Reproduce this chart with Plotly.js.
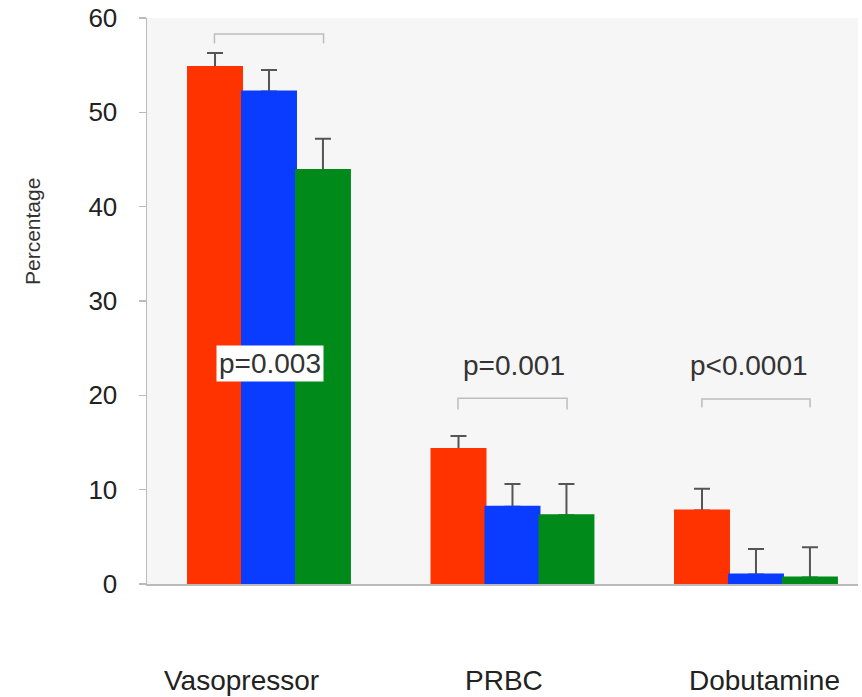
<!DOCTYPE html>
<html>
<head>
<meta charset="utf-8">
<script src="https://cdn.plot.ly/plotly-3.0.1.min.js"></script>
<style>html,body{margin:0;padding:0;background:#ffffff;}</style>
</head>
<body>
<div id="chart" style="width:862px;height:697px;"></div>
<script>
// ---- data ----
const categories = ["Vasopressor", "PRBC", "Dobutamine"];
const redValues   = [54.8, 14.3, 7.8];
const redErrors   = [1.5, 1.4, 2.3];
const blueValues  = [52.2, 8.2, 1.0];
const blueErrors  = [2.3, 2.4, 2.7];
const greenValues = [43.9, 7.3, 0.7];
const greenErrors = [3.3, 3.3, 3.2];
const pLabels = ["p=0.003", "p=0.001", "p<0.0001"];
const yTicks = [0, 10, 20, 30, 40, 50, 60];

const xIdx = categories.map((c, i) => i);
const colors = ['#ff3300', '#0a3cff', '#008a1a'];
const seriesVals = [redValues, blueValues, greenValues];
const seriesErrs = [redErrors, blueErrors, greenErrors];

const data = [];
// lower layer: bars with error bars
seriesVals.forEach((vals, k) => {
  data.push({
    type: 'bar', x: xIdx, y: vals, xaxis: 'x', yaxis: 'y',
    marker: {color: colors[k], line: {width: 0}},
    error_y: {type: 'data', symmetric: false, array: seriesErrs[k],
              arrayminus: seriesErrs[k].map(() => 0),
              color: '#555555', thickness: 2, width: 8},
    hoverinfo: 'none', showlegend: false
  });
});
// upper layer: the same bars again, hiding the lower end of each error bar
seriesVals.forEach((vals, k) => {
  data.push({
    type: 'bar', x: xIdx, y: vals, xaxis: 'x2', yaxis: 'y2',
    marker: {color: colors[k], line: {width: 2, color: colors[k]}},
    hoverinfo: 'none', showlegend: false
  });
});

// significance brackets
const bracketHalf = [0.224, 0.224, 0.222];
const bracketTop = [58.3, 19.7, 19.6];
const bracketDrop = [1.0, 1.2, 0.9];
const shapes = [];
xIdx.forEach((i) => {
  const x0 = i - bracketHalf[i], x1 = i + bracketHalf[i];
  const yt = bracketTop[i], yb = yt - bracketDrop[i];
  shapes.push({type: 'path', xref: 'x', yref: 'y',
    path: `M ${x0} ${yb} L ${x0} ${yt} L ${x1} ${yt} L ${x1} ${yb}`,
    line: {color: '#bdbdbd', width: 1.5}});
});

const pY = [23.4, 23.2, 23.2];
const annotations = xIdx.map((i) => ({
  x: i + (i === 0 ? 0.003 : (i === 1 ? 0.008 : -0.03)), y: pY[i], xref: 'x', yref: 'y',
  text: pLabels[i], showarrow: false,
  font: {family: 'Liberation Sans, Arial, sans-serif', size: 28, color: '#333333'},
  bgcolor: i === 0 ? '#ffffff' : 'rgba(0,0,0,0)', borderpad: 2
}));
// category labels below the axis
const catShift = [-27, -8, 9];
xIdx.forEach((i) => {
  annotations.push({
    x: i, y: 0, xref: 'x', yref: 'y', yanchor: 'middle', yshift: -96, xshift: catShift[i],
    text: categories[i], showarrow: false,
    font: {family: 'Liberation Sans, Arial, sans-serif', size: 28, color: '#222222'}
  });
});
annotations.push({
  x: -0.162, y: 37.4, xref: 'paper', yref: 'y', xanchor: 'center', yanchor: 'middle',
  text: 'Percentage', textangle: -90, showarrow: false,
  font: {family: 'Liberation Sans, Arial, sans-serif', size: 21, color: '#333333'}
});

const axRange = [-0.501, 2.419];
const layout = {
  width: 862, height: 697,
  margin: {l: 147, r: 4, t: 18, b: 113},
  paper_bgcolor: '#ffffff',
  plot_bgcolor: '#f6f6f6',
  barmode: 'group', bargap: 0.335, bargroupgap: 0,
  xaxis: {
    range: axRange, tickmode: 'array', tickvals: xIdx, ticktext: categories,
    showticklabels: false,
    showline: true, linecolor: '#bbbbbb', linewidth: 1.5, ticks: '',
    showgrid: false, zeroline: false
  },
  yaxis: {
    range: [0, 60], tickmode: 'array', tickvals: yTicks,
    showline: true, linecolor: '#bbbbbb', linewidth: 1.5,
    ticks: 'outside', ticklen: 7, tickcolor: '#bbbbbb', tickwidth: 1.5,
    showgrid: false, zeroline: false, ticklabelstandoff: 16,
    tickfont: {family: 'Liberation Sans, Arial, sans-serif', size: 26, color: '#222222'}
  },
  xaxis2: {overlaying: 'x', range: axRange, visible: false, showgrid: false, zeroline: false},
  yaxis2: {overlaying: 'y', range: [0, 60], visible: false, showgrid: false, zeroline: false},
  shapes: shapes,
  annotations: annotations
};

Plotly.newPlot('chart', data, layout, {staticPlot: true, displayModeBar: false});
</script>
</body>
</html>
